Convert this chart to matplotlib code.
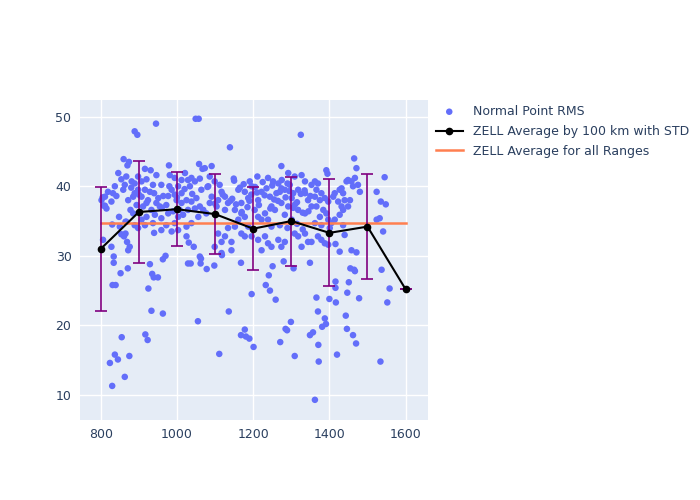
import matplotlib.pyplot as plt

# Normal point RMS values (range in km, rms)
rms_range = [
    805, 808, 811, 815, 802, 811, 819, 828, 832, 841, 837, 846, 854, 859, 863, 867,
    830, 806, 828, 834, 834, 831, 839, 824, 830, 837, 845, 848, 852, 854, 865, 861,
    869, 876, 872, 865, 871, 855, 875, 863,
    860, 874, 870, 881, 872, 889, 878, 885, 889, 898, 907, 898, 885, 894, 911, 920,
    889, 896, 907, 916, 929, 937, 946, 924, 951, 964, 977, 959, 933, 942, 959, 937,
    977, 916, 931, 945, 979, 920, 916, 907, 898, 889, 867, 850, 940, 946, 955, 972,
    929, 935, 939, 950, 925, 963, 970, 933, 963, 917, 923, 959, 972, 986,
    1021, 1029, 1038, 1047, 1034, 1064, 1025, 1038, 1051, 1060, 1069, 1029, 1047,
    1056, 1025, 1038, 1049, 1057, 1058, 1067, 1025, 1031, 1044, 1063, 986, 994, 999,
    1012, 1007, 990, 1003, 1016, 994, 1012, 1003, 994, 981, 1012, 1003,
    1029, 1036, 1062, 1060, 1055, 1078, 1098, 1118, 1111,
    1086, 1099, 1112, 1082, 1117, 1091, 1108, 1126, 1134, 1152, 1161, 1178, 1191,
    1211, 1187, 1213, 1169, 1091, 1073, 1139, 1149, 1204, 1178, 1187, 1161, 1152,
    1134, 1126, 1108, 1117, 1099, 1143, 1143, 1117, 1169, 1178, 1196, 1213, 1231,
    1239, 1248, 1222, 1196, 1222, 1213, 1169, 1126, 1104, 1086, 1077, 1168, 1136,
    1178, 1168, 1181, 1190, 1201, 1196,
    1239, 1252, 1266, 1292, 1309, 1327, 1336, 1353, 1283, 1318, 1336, 1301, 1274,
    1292, 1318, 1248, 1257, 1231, 1222, 1266, 1283, 1274, 1309, 1318, 1336, 1344,
    1327, 1353, 1244, 1261, 1274, 1296, 1305, 1344, 1353, 1283, 1301, 1336, 1270,
    1248, 1239, 1274, 1325, 1251, 1280, 1306, 1349, 1241, 1233, 1244, 1259, 1299,
    1285, 1289, 1271, 1309, 1349, 1357, 1362, 1290, 1315, 1330,
    1362, 1370, 1366, 1379, 1362, 1375, 1388, 1397, 1366, 1384, 1392, 1375, 1397,
    1362, 1379, 1392, 1395, 1379, 1388, 1397, 1370, 1401, 1405, 1370, 1388, 1391,
    1381, 1371, 1372, 1366,
    1449, 1458, 1467, 1475, 1462, 1445, 1432, 1436, 1427, 1414, 1410, 1423, 1440,
    1454, 1449, 1432, 1436, 1427, 1414, 1480, 1436, 1440, 1416, 1427, 1458, 1471,
    1465, 1471, 1455, 1465, 1467, 1416, 1416, 1451, 1447, 1478, 1400, 1417, 1443,
    1446, 1462, 1470, 1420,
    1524, 1535, 1548, 1532, 1524, 1541, 1545, 1537, 1558, 1552, 1534,
    1145, 1155, 1165, 1175, 1185, 1195, 1205, 1215, 1225, 1235, 1245, 1255, 1265,
    1275, 1285, 1295, 1305, 1315, 1325, 1335, 1345, 1150, 1170, 1190, 1210, 1230,
    1250, 1270, 1290, 1310, 1330, 1350, 880, 900, 920, 940, 960, 980, 1000, 1020,
    1040, 1060, 1080, 1100, 1120, 1140,
]
rms_value = [
    38.4, 37.2, 38.5, 36.8, 38.0, 37.2, 39.2, 37.8, 39.0, 38.6, 40.0, 41.9, 41.0, 39.5, 40.2, 41.4,
    34.5, 32.3, 31.3, 29.9, 29.0, 25.8, 25.8, 14.6, 11.3, 15.8, 15.1, 35.6, 27.5, 33.1, 33.2, 32.8,
    32.0, 31.3, 30.8, 34.9, 28.2, 18.3, 15.6, 12.6,
    43.9, 43.5, 43.0, 40.7, 38.0, 39.0, 36.6, 36.1, 40.4, 41.4, 40.7, 39.5, 38.5, 37.3, 37.1, 37.6,
    47.9, 47.4, 38.5, 39.5, 39.2, 40.2, 41.6, 38.0, 38.3, 38.6, 38.6, 40.2, 36.6, 35.9, 35.4, 34.7,
    36.1, 42.5, 42.3, 49.0, 43.0, 35.6, 34.4, 35.2, 34.0, 34.4, 34.9, 34.2, 33.3, 37.6, 37.1, 37.3,
    28.8, 27.4, 26.9, 26.9, 25.3, 29.5, 30.0, 22.1, 21.7, 18.7, 17.9, 33.7, 34.4, 33.5,
    41.9, 40.9, 41.2, 40.7, 40.0, 39.5, 38.0, 37.8, 38.3, 37.1, 36.6, 36.6, 36.8,
    35.6, 34.2, 34.7, 49.7, 49.7, 43.2, 42.5, 32.8, 31.9, 31.3, 29.6, 39.5, 38.8, 38.0,
    37.6, 36.6, 36.4, 35.6, 35.9, 34.7, 39.0, 40.0, 41.2, 41.6, 40.9, 33.7,
    28.9, 28.9, 28.9, 29.9, 20.6, 28.1, 28.6, 30.1, 15.9,
    41.4, 40.7, 40.2, 40.0, 39.2, 38.5, 38.0, 38.5, 37.6, 36.6, 39.5, 39.2, 40.7,
    41.4, 38.3, 38.0, 37.6, 42.9, 42.6, 45.6, 41.1, 36.6, 35.6, 34.2, 35.2, 34.2,
    34.0, 32.8, 33.2, 32.0, 31.3, 32.0, 30.8, 30.4, 33.2, 32.8, 32.8, 32.3, 32.8,
    31.8, 31.3, 30.8, 40.0, 39.2, 35.6, 36.1, 36.6, 37.1, 37.6, 36.1, 29.0, 22.0,
    19.4, 18.6, 18.4, 18.1, 16.9, 24.5,
    41.2, 40.7, 40.4, 41.9, 41.4, 41.6, 40.7, 40.2, 39.5, 39.5, 39.0, 38.3, 37.6,
    37.1, 36.6, 37.1, 36.6, 36.1, 35.2, 32.3, 32.0, 31.3, 33.2, 32.8, 33.2, 32.0,
    31.3, 32.0, 38.5, 39.0, 39.7, 40.2, 39.0, 38.0, 37.1, 35.9, 35.2, 36.1, 34.4,
    34.2, 35.2, 42.9, 47.4, 28.5, 29.2, 28.2, 29.0, 27.2, 25.8, 25.0, 23.7, 20.5,
    19.5, 19.3, 17.6, 15.6, 18.6, 19.0, 9.3, 34.0, 34.6, 33.8,
    40.7, 40.4, 39.5, 39.0, 38.5, 38.0, 38.3, 37.8, 37.1, 36.6, 36.1, 35.6, 35.2,
    34.7, 34.4, 42.3, 41.8, 32.3, 31.8, 31.6, 32.8, 34.0, 34.7, 22.0, 21.0, 20.2,
    19.8, 17.2, 14.8, 24.0,
    40.9, 40.7, 41.2, 40.2, 40.0, 40.7, 39.7, 39.0, 39.5, 39.0, 38.5, 37.8, 38.0,
    38.0, 37.1, 37.1, 36.6, 35.9, 35.2, 39.2, 34.4, 33.0, 31.7, 30.6, 30.8, 30.5,
    44.0, 42.6, 28.2, 28.0, 27.8, 26.3, 25.4, 26.2, 24.7, 23.9, 23.8, 23.3, 21.4,
    19.5, 18.6, 17.4, 15.8,
    39.2, 37.8, 37.4, 35.4, 35.2, 33.5, 41.3, 28.0, 25.3, 23.3, 14.8,
    38.2, 37.4, 39.8, 40.3, 37.0, 38.8, 39.9, 37.3, 40.6, 39.7, 36.8, 38.1, 37.9,
    40.9, 38.4, 39.3, 36.9, 37.7, 38.9, 39.4, 36.4, 40.8, 36.3, 37.9, 39.1, 38.7,
    40.1, 39.2, 40.4, 37.4, 36.2, 38.6, 39.8, 38.8, 41.0, 39.0, 36.9, 40.0, 38.4,
    39.6, 38.9, 41.1, 39.9, 37.5, 38.8, 37.9,
]

# averages per 100 km with standard deviation
avg_range = [800, 900, 1000, 1100, 1200, 1300, 1400, 1500, 1600]
avg_value = [31.0, 36.3, 36.7, 36.0, 33.9, 35.0, 33.3, 34.2, 25.2]
avg_std = [8.9, 7.3, 5.3, 5.8, 6.0, 6.4, 7.7, 7.6, 0.0]

overall_avg = 34.75

fig = plt.figure(figsize=(7, 5), dpi=100)
ax = fig.add_axes([0.114, 0.16, 0.497, 0.64])
ax.set_facecolor("#E5ECF6")
for s in ax.spines.values():
    s.set_visible(False)
ax.grid(True, color="white", linewidth=1)
ax.set_axisbelow(True)

ax.scatter(rms_range, rms_value, s=22, color="#636EFA", edgecolors="none",
           zorder=2, label="Normal Point RMS")

# error bars drawn on their own so the legend shows only line + marker
ax.errorbar(avg_range, avg_value, yerr=avg_std, fmt="none",
            ecolor="purple", elinewidth=1.2, capsize=4, capthick=1.2, zorder=4)
ax.plot(avg_range, avg_value, color="black", marker="o", markersize=4.5,
        linewidth=1.5, zorder=5, label="ZELL Average by 100 km with STD")

ax.plot([avg_range[0], avg_range[-1]], [overall_avg, overall_avg],
        color="#FF7F50", linewidth=1.8, zorder=3,
        label="ZELL Average for all Ranges")

ax.set_xlim(745, 1658)
ax.set_ylim(6.4, 52.4)
ax.set_xticks([800, 1000, 1200, 1400, 1600])
ax.set_yticks([10, 20, 30, 40, 50])
ax.tick_params(length=0, labelsize=9, labelcolor="#2a3f5f", pad=6)

handles, labels = ax.get_legend_handles_labels()
fig.legend(handles, labels, loc="upper left", bbox_to_anchor=(0.615, 0.8),
           frameon=False, fontsize=9, labelcolor="#2a3f5f", handlelength=2.2,
           borderaxespad=0, labelspacing=0.55)

plt.savefig("out.png")
plt.close()
